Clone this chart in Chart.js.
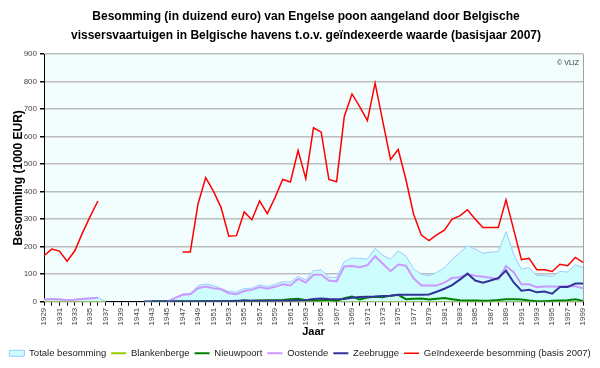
<!DOCTYPE html>
<html>
<head>
<meta charset="utf-8">
<script src="https://cdn.jsdelivr.net/npm/chart.js@4.4.1/dist/chart.umd.min.js"></script>
<style>
  body { margin: 0; background: #fff; }
</style>
</head>
<body>
<canvas id="myChart" width="600" height="368"></canvas>
<script>
const years = ['1929','1930','1931','1932','1933','1934','1935','1936','1937','1938',
  '1939','1940','1941','1942','1943','1944','1945','1946','1947','1948',
  '1949','1950','1951','1952','1953','1954','1955','1956','1957','1958',
  '1959','1960','1961','1962','1963','1964','1965','1966','1967','1968',
  '1969','1970','1971','1972','1973','1974','1975','1976','1977','1978',
  '1979','1980','1981','1982','1983','1984','1985','1986','1987','1988',
  '1989','1990','1991','1992','1993','1994','1995','1996','1997','1998','1999']

// 1000 EUR per year
const totaal = [9,12,10,7,9,12,14,16,0,null,
  null,null,null,1,2,2,3,14,28,30,
  58,64,59,48,37,35,48,49,61,55,
  63,73,71,92,80,113,115,89,88,145,
  159,157,155,194,169,154,185,166,119,100,
  94,106,123,154,178,203,191,176,180,182,
  254,172,118,124,95,95,92,110,108,134,124]

const blankenberge = [0,0,0,0,0,0,0,0,0,null,
  null,null,null,0,0,0,0,0,0,0,
  0,0,0,0,0,0,0,0,0,0,
  0,0,0,0,0,0,0,0,0,0,
  0,0,0,0,0,0,0,0,0,0,
  0,0,0,0,0,0,0,0,0,0,
  0,0,0,0,0,0,0,0,0,0,0]

const nieuwpoort = [null,null,null,null,null,null,null,null,null,null,
  null,null,null,null,2,2,2,2,2,2,
  2,2,2,2,2,2,3,3,4,5,
  5,6,9,11,5,4,5,7,3,13,
  19,8,15,18,16,22,25,9,11,12,
  8,11,13,9,5,4,4,3,4,6,
  9,9,8,4,2,2,3,4,5,9,3]

const oostende = [7,10,8,5,7,10,12,14,null,null,
  null,null,null,null,null,null,0,13,25,27,
  49,55,49,45,31,27,39,43,53,47,
  54,63,59,83,70,98,98,77,74,128,
  130,125,133,165,138,111,135,131,85,59,
  59,59,69,86,89,100,94,91,87,80,
  130,107,63,63,53,55,55,55,57,56,49]

const zeebrugge = [null,null,null,null,null,null,null,null,null,null,
  null,null,null,1,1,1,1,1,1,1,
  1,2,2,2,2,3,5,3,3,3,
  3,3,3,4,5,10,12,10,9,10,
  14,17,18,19,21,22,25,25,25,25,
  26,36,47,60,80,102,77,69,77,86,
  113,70,40,43,34,37,29,53,53,66,66]

const geindexeerd = [167,191,184,147,185,250,310,366,null,null,
  null,null,null,null,null,null,null,null,181,181,
  355,451,402,342,238,240,326,298,366,320,
  378,444,435,549,447,632,616,444,436,673,
  755,709,658,794,655,517,553,444,318,242,
  222,243,260,300,312,334,300,270,270,270,
  370,262,153,158,116,116,110,136,131,161,143]

const yTicks = [0,100,200,300,400,500,600,700,800,900]

const titel = ['Besomming (in duizend euro) van Engelse poon aangeland door Belgische',
  'vissersvaartuigen in Belgische havens t.o.v. geïndexeerde waarde (basisjaar 2007)']

Chart.defaults.font.family = "'Liberation Sans', Arial, sans-serif"

const plotBg = {
  id: 'plotBg',
  beforeDraw(chart) {
    const { ctx, chartArea: a } = chart
    ctx.save()
    ctx.fillStyle = '#f2fdfd'
    ctx.fillRect(a.left, a.top, a.right - a.left, a.bottom - a.top)
    ctx.restore()
  },
  afterDraw(chart) {
    const { ctx, chartArea: a } = chart
    ctx.save()
    ctx.strokeStyle = '#a0a0a0'
    ctx.lineWidth = 1
    ctx.beginPath()
    ctx.moveTo(a.right + 0.5, a.top)
    ctx.lineTo(a.right + 0.5, a.bottom)
    ctx.stroke()
    ctx.fillStyle = '#333'
    ctx.font = "7px 'Liberation Sans', Arial"
    ctx.textAlign = 'right'
    ctx.fillText('© VLIZ', a.right - 4, a.top + 9)

    // title, centred like the original (not over the plot)
    ctx.fillStyle = '#000'
    ctx.font = "bold 12px 'Liberation Sans', Arial"
    ctx.textAlign = 'center'
    ctx.textBaseline = 'middle'
    ctx.fillText(titel[0], 306, 17)
    ctx.fillText(titel[1], 306, 36)
    ctx.restore()
  }
}

const ctx = document.getElementById('myChart')

const lineStyle = { pointRadius: 0, tension: 0, fill: false, spanGaps: false }

new Chart(ctx, {
  type: 'line',
  data: {
    labels: years,
    datasets: [
      { ...lineStyle, label: 'Totale besomming', data: totaal, borderColor: '#99ccff', backgroundColor: '#cdfdfd', borderWidth: 1, fill: 'origin', pointStyle: 'rect', order: 6 },
      { ...lineStyle, label: 'Blankenberge', data: blankenberge, borderColor: '#99cc00', backgroundColor: '#99cc00', borderWidth: 2, pointStyle: 'line', order: 7 },
      { ...lineStyle, label: 'Nieuwpoort', data: nieuwpoort, borderColor: '#008000', backgroundColor: '#008000', borderWidth: 2, pointStyle: 'line', order: 4 },
      { ...lineStyle, label: 'Oostende', data: oostende, borderColor: '#cc99ff', backgroundColor: '#cc99ff', borderWidth: 2, pointStyle: 'line', order: 3 },
      { ...lineStyle, label: 'Zeebrugge', data: zeebrugge, borderColor: '#333399', backgroundColor: '#333399', borderWidth: 2, pointStyle: 'line', order: 2 },
      { ...lineStyle, label: 'Geïndexeerde besomming (basis 2007)', data: geindexeerd, borderColor: '#ff0000', backgroundColor: '#ff0000', borderWidth: 1.5, pointStyle: 'line', order: 1 }
    ]
  },
  options: {
    responsive: false,
    animation: false,
    layout: { padding: { left: 4, right: 4, top: 54, bottom: 0 } },
    plugins: {
      title: { display: false },
      legend: {
        position: 'bottom',
        // empty legend title = a few px of extra space above the items
        title: { display: true, text: '', font: { size: 4 }, padding: 0 },
        labels: {
          usePointStyle: true,
          pointStyleWidth: 15,
          boxHeight: 6,
          color: '#222',
          font: { size: 9.5 },
          padding: 5,
          sort: (a, b) => a.datasetIndex - b.datasetIndex
        }
      },
      tooltip: { enabled: false }
    },
    scales: {
      x: {
        z: 1,
        grid: { drawOnChartArea: false, drawTicks: true, tickLength: 4, color: '#000' },
        border: { color: '#000' },
        ticks: {
          autoSkip: false,
          maxRotation: 90,
          minRotation: 90,
          padding: 2,
          color: '#444',
          font: { size: 8 },
          callback: function (v, i) { return i % 2 === 0 ? this.getLabelForValue(v) : '' }
        },
        title: { display: true, text: 'Jaar', color: '#000', font: { size: 11, weight: 'bold' }, padding: { top: 2, bottom: 0 } },
        afterFit: s => { s.height = 37 }
      },
      y: {
        min: 0,
        max: 900,
        afterBuildTicks: s => { s.ticks = yTicks.map(v => ({ value: v })) },
        grid: { color: '#bcbcbc', lineWidth: 1.5, tickColor: '#000', tickLength: 4 },
        border: { color: '#000' },
        ticks: { color: '#444', font: { size: 8 }, padding: 3 },
        title: { display: true, text: 'Besomming (1000 EUR)', color: '#000', font: { size: 12, weight: 'bold' }, padding: { top: 7, bottom: 0 } },
        afterFit: s => { s.width = 40 }
      },
      // empty right axis, only there to keep the plot's right edge in place
      yRight: {
        position: 'right',
        min: 0,
        max: 900,
        grid: { display: false },
        border: { display: false },
        ticks: { display: false },
        afterFit: s => { s.width = 13 }
      }
    }
  },
  plugins: [plotBg]
})
</script>
</body>
</html>
